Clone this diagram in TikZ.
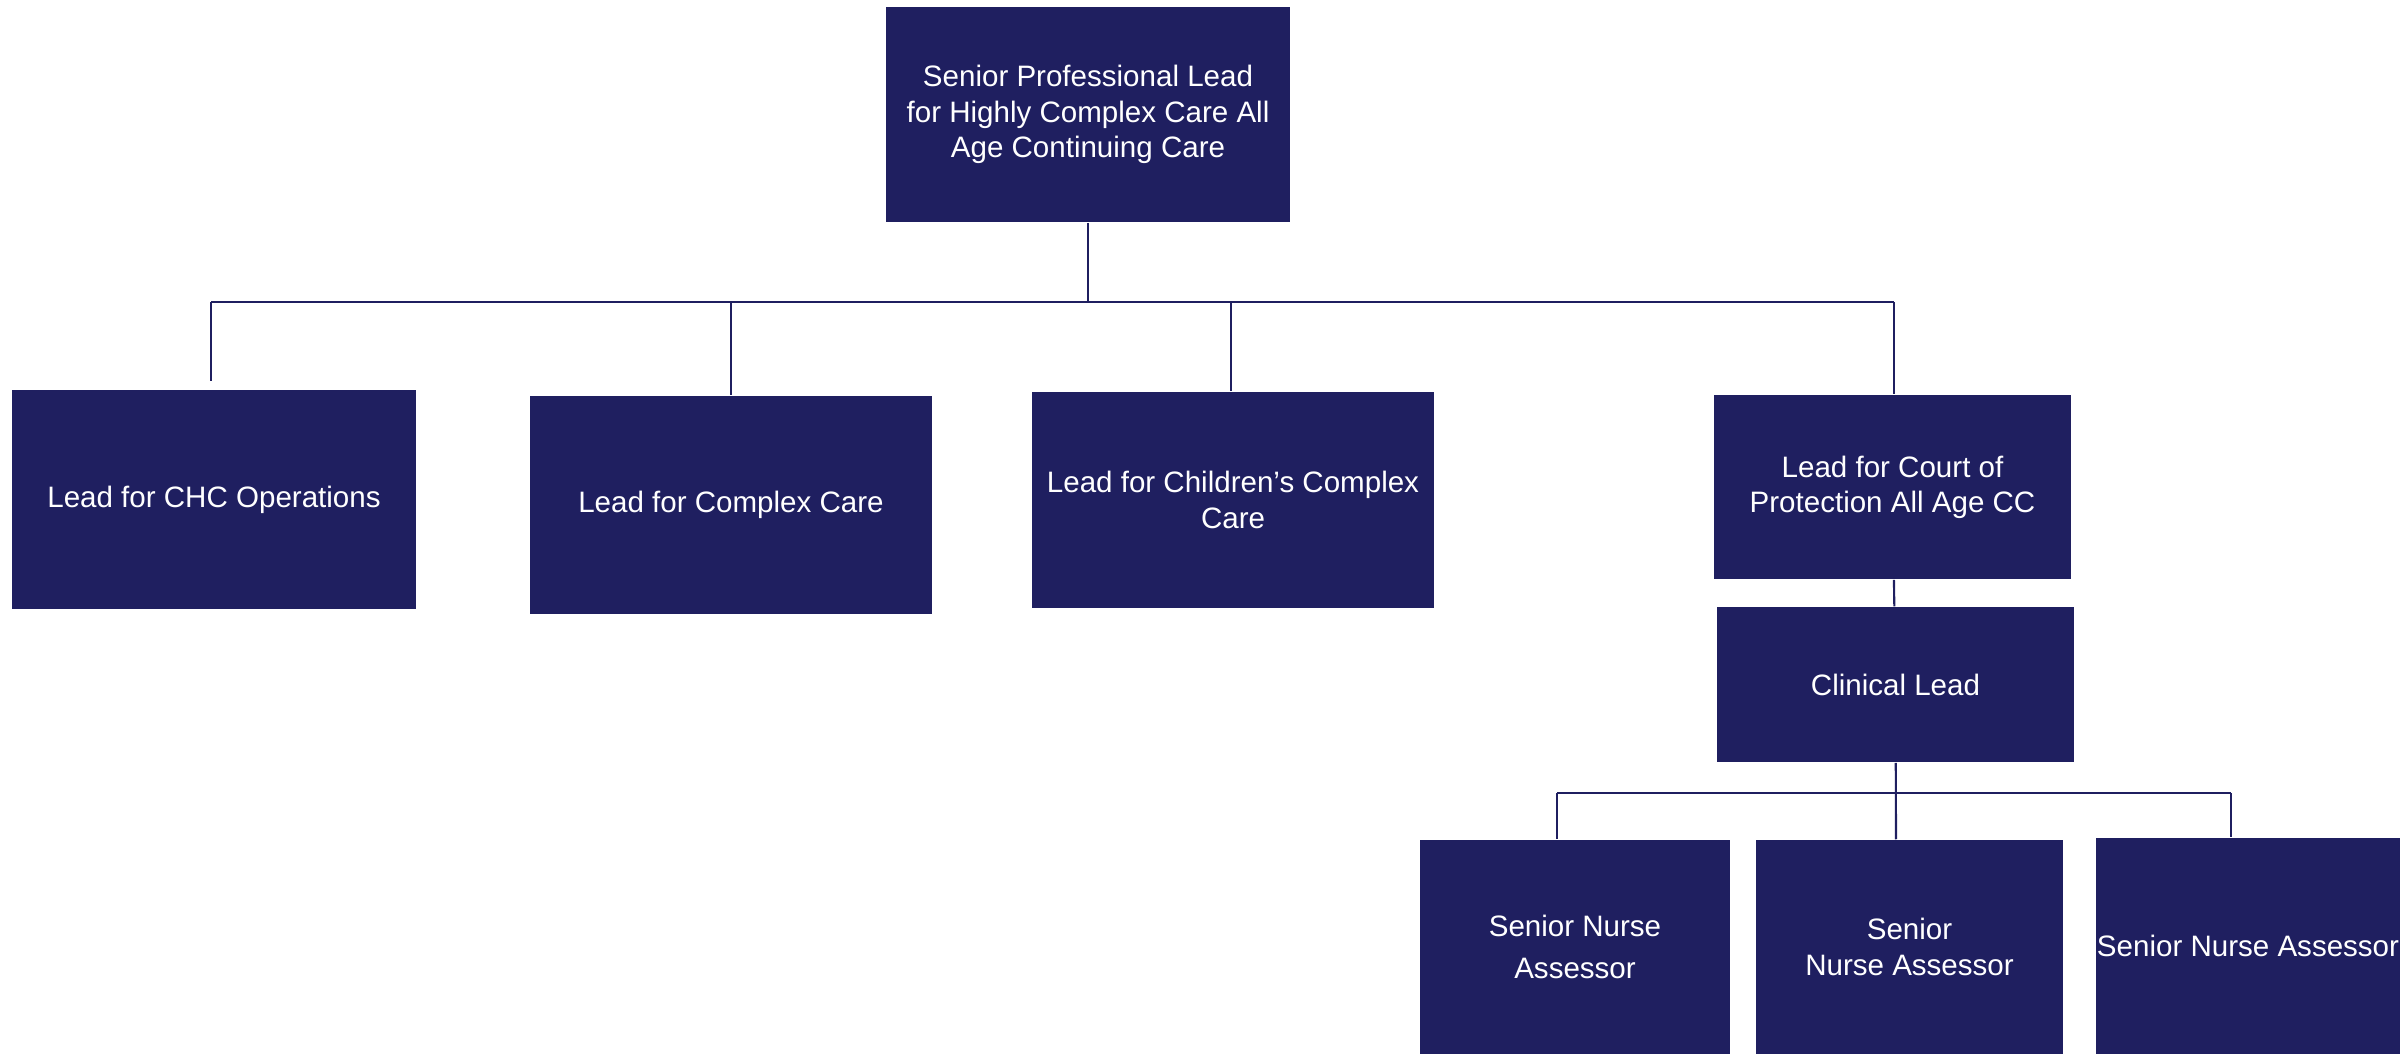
\documentclass[tikz,border=0pt]{standalone}
\usepackage{fontspec}
\setmainfont{Liberation Sans}
\usetikzlibrary{positioning}
\definecolor{navy}{RGB}{31,31,96}
\tikzstyle{post} = [rectangle, fill=navy, text=white, align=center, inner sep=0pt, font=\fontsize{8.4}{10}\selectfont]
\tikzstyle{link} = [draw=navy, line width=0.6pt]

\begin{document}
\begin{tikzpicture}[x=0.01cm, y=-0.01cm]
    \useasboundingbox (0,0) rectangle (2400,1054);
    \node (head) [post, minimum width=4.04cm, minimum height=2.15cm] at (1088,114.5) {Senior Professional Lead\\for Highly Complex Care All\\Age Continuing Care};
    \node (chc) [post, minimum width=4.04cm, minimum height=2.19cm] at (214,499.5) {Lead for CHC Operations};
    \node (complex) [post, minimum width=4.02cm, minimum height=2.18cm] at (731,505) {Lead for Complex Care};
    \node (children) [post, minimum width=4.02cm, minimum height=2.16cm] at (1233,500) {Lead for Children’s Complex\\Care};
    \node (court) [post, minimum width=3.57cm, minimum height=1.84cm] at (1892.5,487) {Lead for Court of\\Protection All Age CC};
    \node (clinical) [post, minimum width=3.57cm, minimum height=1.55cm] at (1895.5,684.5) {Clinical Lead};
    \node (nurseA) [post, minimum width=3.10cm, minimum height=2.14cm] at (1575,947) {Senior Nurse\\[2pt]Assessor};
    \node (nurseB) [post, minimum width=3.07cm, minimum height=2.14cm] at (1909.5,947) {Senior\\Nurse Assessor};
    \node (nurseC) [post, minimum width=3.04cm, minimum height=2.16cm] at (2248,946) {Senior Nurse Assessor};
    % top level bus
    \coordinate (bus) at (1088,302);
    \coordinate (busL) at (211,302);
    \coordinate (busR) at (1894,302);
    \coordinate (busK) at (1231,302);
    \draw [link] (head) -- (bus);
    \draw [link, line width=0.8pt] (busL) -- (busR);
    \draw [link, shorten >=0.08cm] (busL) -- (busL |- chc.north);
    \draw [link] (complex.north |- bus) -- (complex.north);
    \draw [link] (busK) -- (busK |- children.north);
    \draw [link] (busR) -- (busR |- court.north);
    \draw [link] (court) -- (clinical);
    % nurse bus
    \coordinate (sub) at (1896,793);
    \coordinate (subL) at (1557,793);
    \coordinate (subR) at (2231,793);
    \draw [link] (subL) -- (subR);
    \draw [link] (clinical) -- (sub |- nurseB.north);
    \draw [link] (subL) -- (subL |- nurseA.north);
    \draw [link] (subR) -- (subR |- nurseC.north);
\end{tikzpicture}
\end{document}
